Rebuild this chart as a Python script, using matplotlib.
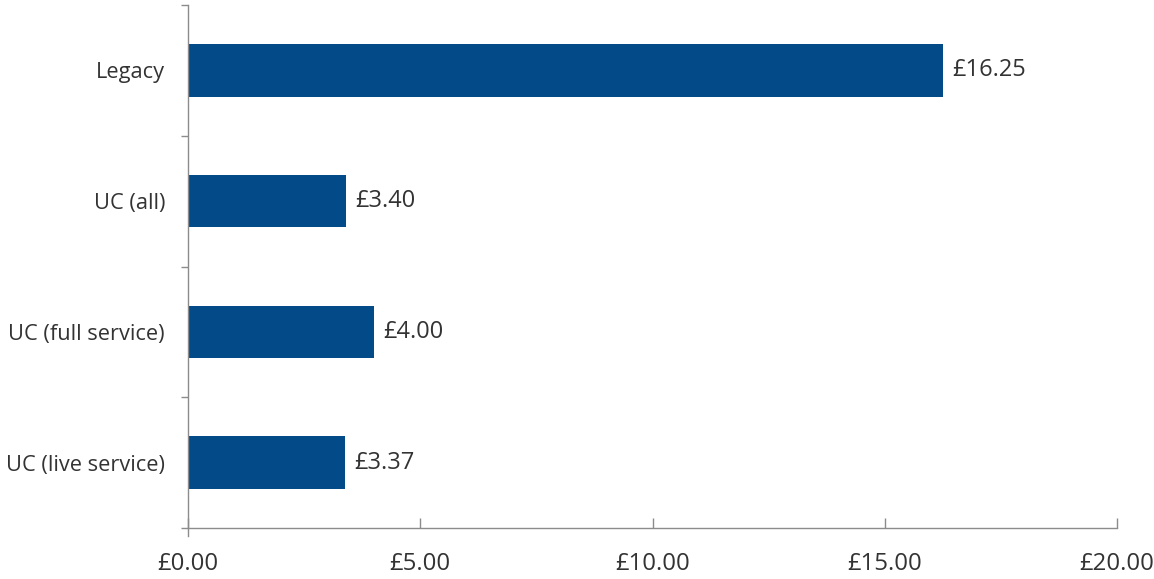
import matplotlib
matplotlib.use("Agg")
import matplotlib.pyplot as plt
from matplotlib.ticker import FixedLocator

categories = ["Legacy", "UC (all)", "UC (full service)", "UC (live service)"]
values = [16.25, 3.40, 4.00, 3.37]
value_labels = ["£16.25", "£3.40", "£4.00", "£3.37"]
xticks = [0, 5, 10, 15, 20]
xtick_labels = ["£0.00", "£5.00", "£10.00", "£15.00", "£20.00"]

plt.rcParams['font.family'] = ['Open Sans', 'DejaVu Sans']
BAR = "#034a88"
GRID = "#8c8c8c"
TXT = "#333333"

fig = plt.figure(figsize=(11.54, 5.79), dpi=100)
ax = fig.add_axes([188/1154, 1-528/579, (1117-188)/1154, (528-5)/579])

y = list(range(len(categories)))
ax.barh(y, values, height=0.4, color=BAR)
ax.set_ylim(len(categories)-0.5, -0.5)
ax.set_xlim(0, 20)

for yi, v, lab in zip(y, values, value_labels):
    ax.annotate(lab, (v, yi), xytext=(7, 0), textcoords="offset points",
                va="center", ha="left", fontsize=17, color=TXT)

ax.set_yticks(y)
ax.set_yticklabels(categories, fontsize=15.7, color=TXT)
ax.yaxis.set_minor_locator(FixedLocator([i-0.5 for i in range(len(categories)+1)]))
ax.tick_params(axis='y', which='major', length=0, pad=16.5)
ax.tick_params(axis='y', which='minor', length=5, width=1, color=GRID, direction='out')

ax.set_xticks(xticks)
ax.set_xticklabels(xtick_labels, fontsize=17.3, color=TXT)
ax.tick_params(axis='x', length=7, width=1, color=GRID, direction='in', pad=17)

for s in ['top', 'right']:
    ax.spines[s].set_visible(False)
for s in ['left', 'bottom']:
    ax.spines[s].set_color(GRID)
    ax.spines[s].set_linewidth(1)
ax.spines['left'].set_bounds(-0.5, len(categories)-0.5+0.06)

fig.savefig("out.png", dpi=100)
